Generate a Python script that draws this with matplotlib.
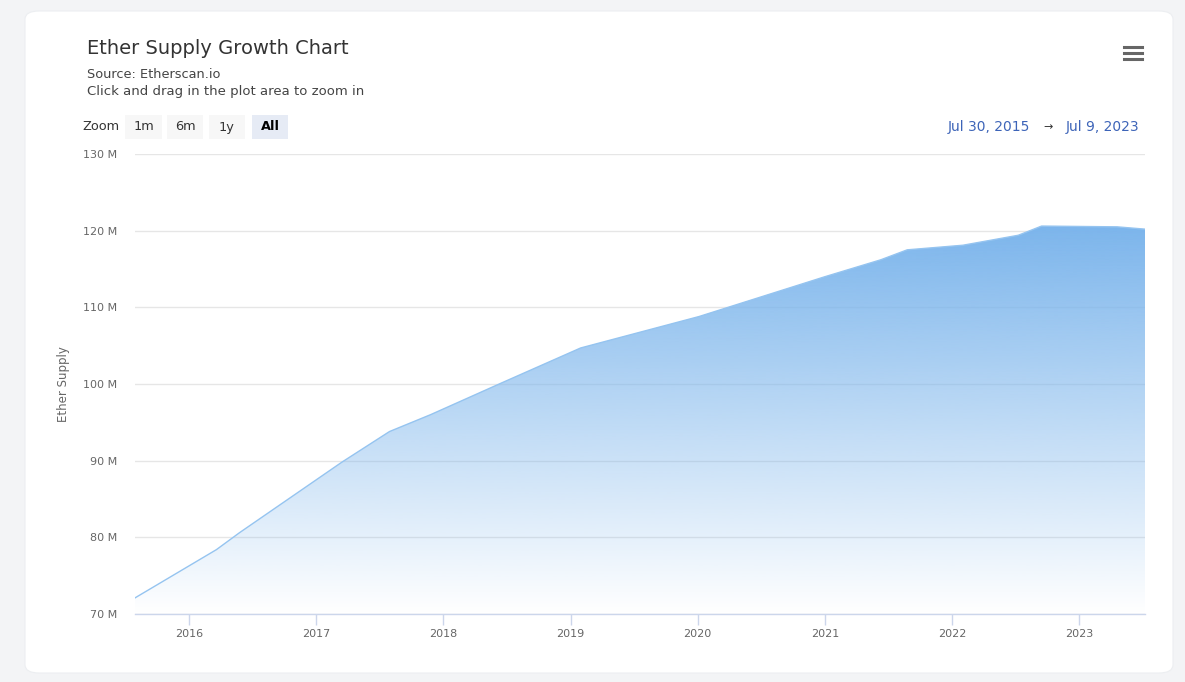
import numpy as np
import pandas as pd
import matplotlib
matplotlib.use('Agg')
import matplotlib.pyplot as plt
import matplotlib.dates as mdates
from matplotlib.patches import FancyBboxPatch, Rectangle
from matplotlib.lines import Line2D
from matplotlib.ticker import FuncFormatter

# Dados (milhões de ETH)
datas = ['2015-07-30', '2016-03-20', '2016-05-25', '2017-03-15', '2017-07-30',
         '2017-11-25', '2018-06-15', '2019-01-30', '2020-01-05', '2021-01-01',
         '2021-06-10', '2021-08-25', '2022-02-01', '2022-07-10', '2022-09-15',
         '2023-04-20', '2023-07-09']
supply = [72.1, 78.4, 80.6, 89.8, 93.8,
          96.0, 100.1, 104.7, 108.8, 114.0,
          116.2, 117.5, 118.1, 119.4, 120.6,
          120.5, 120.2]
anos = ['2016', '2017', '2018', '2019', '2020', '2021', '2022', '2023']
y_ticks = [70, 80, 90, 100, 110, 120, 130]

x = mdates.date2num(pd.to_datetime(datas))
y = np.array(supply)

cinza = '#666666'
fig = plt.figure(figsize=(11.85, 6.82), dpi=100)
fig.patch.set_facecolor('#f3f4f6')

# cartão branco
card = FancyBboxPatch((25 / 1185, 1 - 673 / 682), 1148 / 1185, 662 / 682,
                      boxstyle='round,pad=0,rounding_size=0.012',
                      transform=fig.transFigure, facecolor='white',
                      edgecolor='#eceef1', linewidth=0.8, zorder=-5)
fig.patches.append(card)

ax = fig.add_axes([135 / 1185, 1 - 614 / 682, 1010 / 1185, 460 / 682])
ax.set_facecolor('none')

x0 = mdates.date2num(pd.Timestamp('2015-07-30'))
x1 = mdates.date2num(pd.Timestamp('2023-07-09'))
ax.set_xlim(x0, x1)
ax.set_ylim(70, 130)

# área com gradiente
poly = ax.fill_between(x, y, 70, facecolor='none', edgecolor='none')
grad = np.linspace(0, 1, 256)
base = np.array([124, 181, 236]) / 255
img = np.ones((256, 1, 4))
img[:, 0, :3] = base
img[:, 0, 3] = grad
im = ax.imshow(img, extent=[x0, x1, 70, y.max()], origin='lower',
               aspect='auto', zorder=2, interpolation='bicubic')
im.set_clip_path(poly.get_paths()[0], transform=ax.transData)
ax.plot(x, y, color='#95c4f0', linewidth=1.0, zorder=3)

# eixos
ax.set_yticks(y_ticks)
ax.yaxis.set_major_formatter(FuncFormatter(lambda v, p: f'{int(v)} M'))
ax.set_xticks(mdates.date2num(pd.to_datetime([a + '-01-01' for a in anos])))
ax.set_xticklabels(anos)
ax.tick_params(axis='y', length=0, pad=13, labelsize=8, labelcolor=cinza)
ax.tick_params(axis='x', length=8, width=1, color='#ccd6eb', pad=3,
               labelsize=8, labelcolor=cinza)
ax.grid(axis='y', color='#e6e6e6', linewidth=1, zorder=1)
for s in ['top', 'right', 'left']:
    ax.spines[s].set_visible(False)
ax.spines['bottom'].set_color('#ccd6eb')
ax.spines['bottom'].set_linewidth(1)
ax.set_ylabel('Ether Supply', fontsize=8.5, color=cinza)
ax.yaxis.set_label_coords(-0.064, 0.5)

# títulos
fig.text(87 / 1185, 1 - 48 / 682, 'Ether Supply Growth Chart', fontsize=14,
         color='#333333', va='center', ha='left')
fig.text(87 / 1185, 1 - 74 / 682, 'Source: Etherscan.io', fontsize=9.3,
         color='#444444', va='center', ha='left')
fig.text(87 / 1185, 1 - 92 / 682, 'Click and drag in the plot area to zoom in',
         fontsize=9.5, color='#444444', va='center', ha='left')

# botões de zoom
fig.text(82 / 1185, 1 - 127 / 682, 'Zoom', fontsize=9.3, color='#333333',
         va='center', ha='left')
botoes = [('1m', 125, 162), ('6m', 167, 203), ('1y', 209, 245), ('All', 252, 288)]
for rotulo, bx0, bx1 in botoes:
    sel = rotulo == 'All'
    fig.patches.append(Rectangle((bx0 / 1185, 1 - 139 / 682), (bx1 - bx0) / 1185,
                                 24 / 682, transform=fig.transFigure,
                                 facecolor='#e6ebf5' if sel else '#f7f7f7',
                                 edgecolor='none', zorder=1))
    fig.text((bx0 + bx1) / 2 / 1185, 1 - 127 / 682, rotulo, fontsize=9.3,
             color='#000000' if sel else '#333333',
             fontweight='bold' if sel else 'normal', va='center', ha='center')

# intervalo de datas
azul = '#3d64b8'
fig.text(1030 / 1185, 1 - 127 / 682, 'Jul 30, 2015', fontsize=10, color=azul,
         va='center', ha='right')
fig.text(1048 / 1185, 1 - 127 / 682, '→', fontsize=8, color='#333333',
         va='center', ha='center')
fig.text(1139 / 1185, 1 - 127 / 682, 'Jul 9, 2023', fontsize=10, color=azul,
         va='center', ha='right')

# ícone de menu
for yy in [47, 53, 59]:
    fig.add_artist(Line2D([1124 / 1185, 1142 / 1185], [1 - yy / 682, 1 - yy / 682],
                          transform=fig.transFigure, color=cinza, linewidth=2.2))

fig.savefig('out.png', dpi=100, facecolor=fig.get_facecolor())
